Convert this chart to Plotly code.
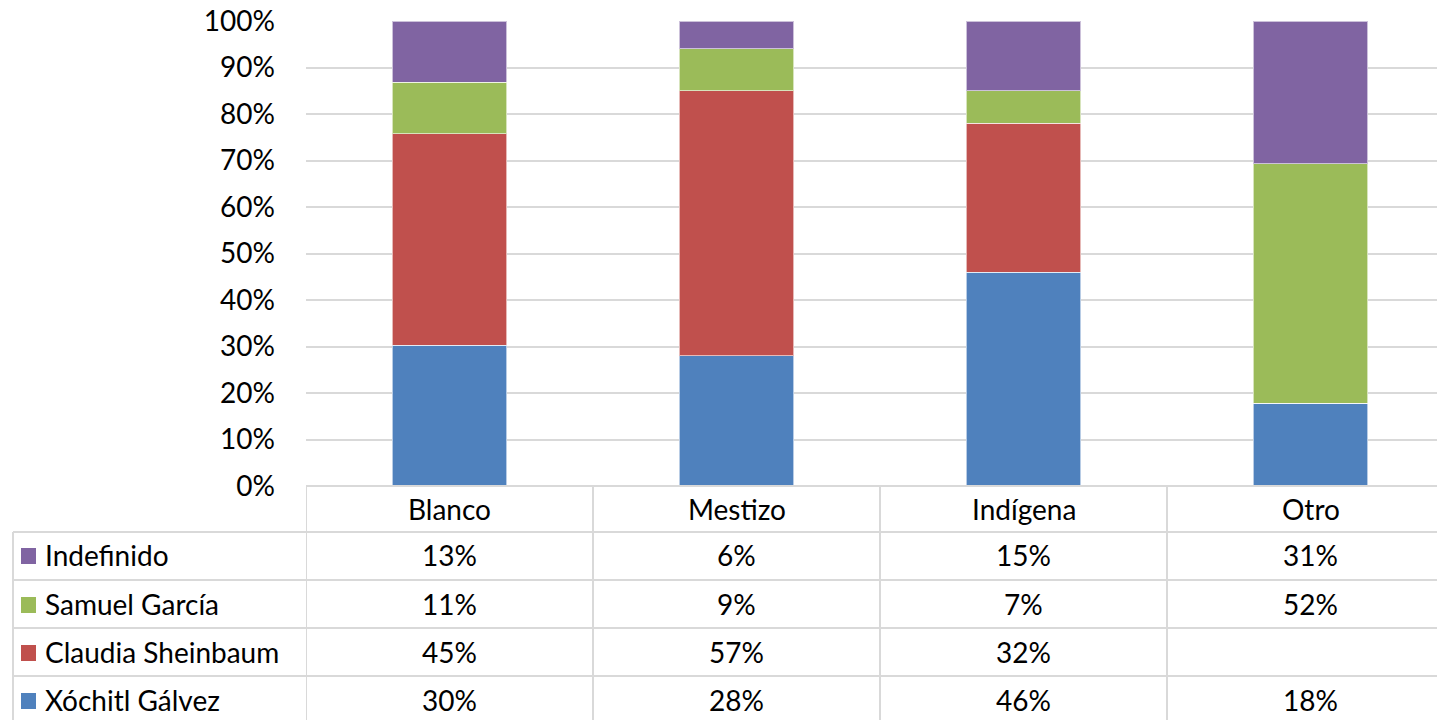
import plotly.graph_objects as go

grupos = ["Blanco", "Mestizo", "Indígena", "Otro"]
candidatos = ["Xóchitl Gálvez", "Claudia Sheinbaum", "Samuel García", "Indefinido"]
xochitl = [30, 28, 46, 18]
claudia = [45, 57, 32, None]
samuel = [11, 9, 7, 52]
indefinido = [13, 6, 15, 31]
colores = ["#4F81BD", "#C0504D", "#9BBB59", "#8064A2"]
ticks_y = [0, 10, 20, 30, 40, 50, 60, 70, 80, 90, 100]

series = [xochitl, claudia, samuel, indefinido]

W, H = 1437, 720
L, T, B = 306, 21, 234
plot_h = H - T - B
plot_w = W - L
COL_W = 287  # one category column in px; the last column runs past the window
FONT = "Lato"
FS = 28
GRID = "#d9d9d9"


def py(y):
    # y in pixels -> paper fraction
    return (H - B - y) / plot_h


def px(x):
    return (x - L) / plot_w


fig = go.Figure()
for nombre, vals, c in zip(candidatos, series, colores):
    fig.add_trace(go.Bar(x=grupos, y=[v if v is not None else 0 for v in vals], name=nombre,
                         marker=dict(color=c, line=dict(color="rgba(255,255,255,0.6)", width=1)),
                         width=0.4))

fig.update_layout(
    barmode="stack", barnorm="percent",
    width=W, height=H, margin=dict(l=L, r=0, t=T, b=B, autoexpand=False),
    plot_bgcolor="white", paper_bgcolor="white", showlegend=False,
    font=dict(family=FONT, size=FS, color="black"),
)
fig.update_xaxes(showticklabels=False, showgrid=False, range=[-0.5, -0.5 + plot_w / COL_W],
                 zeroline=False, automargin=False)
fig.update_yaxes(range=[0, 100], tickvals=ticks_y, ticktext=[f"{t}%" for t in ticks_y],
                 showgrid=True, gridcolor=GRID, gridwidth=2, zeroline=False, automargin=False,
                 ticklabelstandoff=30, ticklabeloverflow="allow", tickfont=dict(size=FS))

shapes = []
line = dict(color=GRID, width=2)
row_lines = [486, 532, 580, 628, 676, 724]
for i, yl in enumerate(row_lines):
    x0 = L if i == 0 else 13
    shapes.append(dict(type="line", xref="paper", yref="paper", x0=px(x0), x1=1, y0=py(yl), y1=py(yl), line=line))
for k in range(len(grupos)):
    shapes.append(dict(type="line", xref="x", yref="paper", x0=k - 0.5, x1=k - 0.5, y0=py(486), y1=py(724), line=line))
shapes.append(dict(type="line", xref="paper", yref="paper", x0=px(13), x1=px(13), y0=py(532), y1=py(724), line=line))

annotations = []
for g in grupos:
    annotations.append(dict(x=g, y=py(509), xref="x", yref="paper", text=g, showarrow=False,
                            xanchor="center", yanchor="middle", font=dict(size=FS, family=FONT)))

row_centers = [555, 604, 652, 700]
for r, idx in enumerate([3, 2, 1, 0]):
    yc = row_centers[r]
    shapes.append(dict(type="rect", xref="paper", yref="paper", x0=px(21), x1=px(36),
                       y0=py(yc + 9), y1=py(yc - 7), fillcolor=colores[idx], line=dict(width=0)))
    annotations.append(dict(x=px(43), y=py(yc), xref="paper", yref="paper", text=candidatos[idx],
                            showarrow=False, xanchor="left", yanchor="middle", font=dict(size=FS, family=FONT)))
    for g, v in zip(grupos, series[idx]):
        annotations.append(dict(x=g, y=py(yc), xref="x", yref="paper",
                                text="" if v is None else f"{v}%", showarrow=False,
                                xanchor="center", yanchor="middle", font=dict(size=FS, family=FONT)))

fig.update_layout(shapes=shapes, annotations=annotations)
# drop the browser's default 8px body margin so the figure fills the window
fig.write_html("out.html", config={"displayModeBar": False},
               post_script="document.body.style.margin='0';")
